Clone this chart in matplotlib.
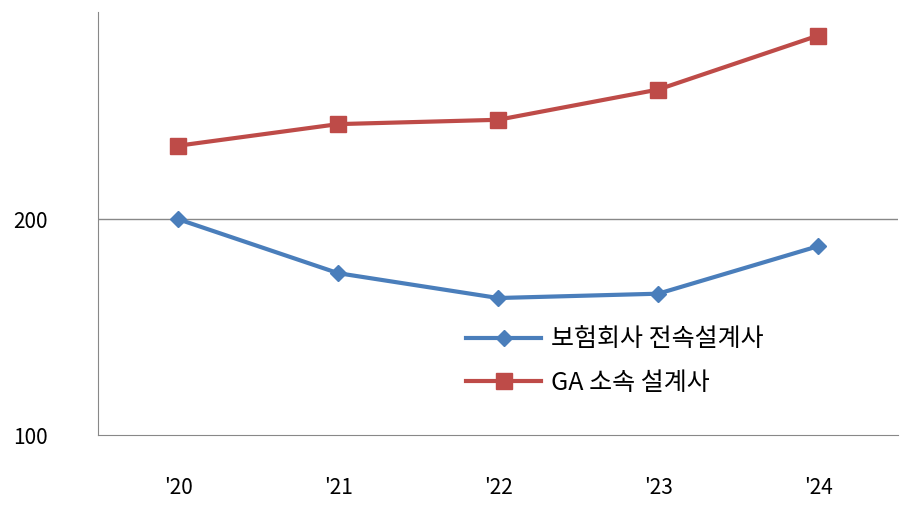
import matplotlib
matplotlib.use("Agg")
import matplotlib.pyplot as plt

plt.rcParams['font.family'] = ['Noto Sans CJK KR', 'DejaVu Sans']

years = ["'20", "'21", "'22", "'23", "'24"]
insurer_agents = [200, 175, 163.5, 165.5, 187.5]
ga_agents = [234, 244, 246, 260, 285]

fig = plt.figure(figsize=(9, 5.12), dpi=100)
ax = fig.add_axes([0.109, 0.150, 0.889, 0.827])
x = range(len(years))
ax.plot(x, insurer_agents, color="#4a7ebb", lw=3, marker="D", ms=8, label="보험회사 전속설계사")
ax.plot(x, ga_agents, color="#be4b48", lw=3, marker="s", ms=11, label="GA 소속 설계사")

ax.set_xlim(-0.5, 4.5)
ax.set_ylim(100, 296)
ax.set_yticks([100, 200])
ax.set_xticks(list(x))
ax.set_xticklabels(years)
ax.axhline(200, color="#888888", lw=1, zorder=0)
ax.tick_params(length=0, labelsize=15, pad=30)
ax.tick_params(axis="y", pad=36)
for s in ["top", "right"]:
    ax.spines[s].set_visible(False)
for s in ["left", "bottom"]:
    ax.spines[s].set_color("#888888")

ax.legend(loc="lower right", bbox_to_anchor=(0.86, 0.04), frameon=False,
          fontsize=18, handlelength=3, labelspacing=0.7, handletextpad=0.4)
fig.savefig("out.png", dpi=100)
